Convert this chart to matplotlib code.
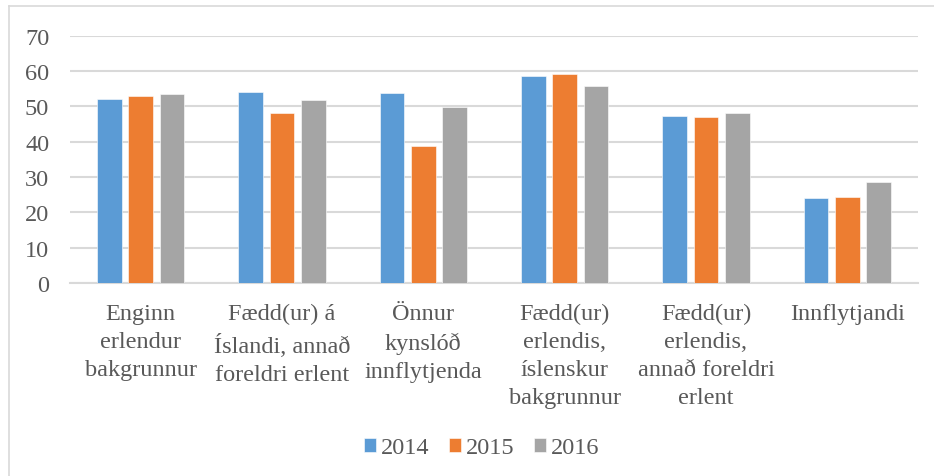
import matplotlib
matplotlib.use("Agg")
import matplotlib.pyplot as plt
from matplotlib.lines import Line2D
import numpy as np

categories = [
    "Enginn\nerlendur\nbakgrunnur",
    "Fædd(ur) á\nÍslandi, annað\nforeldri erlent",
    "Önnur\nkynslóð\ninnflytjenda",
    "Fædd(ur)\nerlendis,\níslenskur\nbakgrunnur",
    "Fædd(ur)\nerlendis,\nannað foreldri\nerlent",
    "Innflytjandi",
]
series_names = ["2014", "2015", "2016"]
v2014 = [52.2, 54.0, 53.7, 58.6, 47.4, 24.0]
v2015 = [52.8, 48.2, 38.8, 59.1, 46.9, 24.4]
v2016 = [53.4, 51.7, 49.9, 55.9, 48.2, 28.6]
yticks = [0, 10, 20, 30, 40, 50, 60, 70]

colors = ["#5B9BD5", "#ED7D31", "#A5A5A5"]
text_color = "#595959"
grid_color = "#D9D9D9"

plt.rcParams["font.family"] = ["Liberation Serif", "DejaVu Serif"]

W, H = 934, 477
fig = plt.figure(figsize=(W / 100, H / 100), dpi=100)
ax = fig.add_axes([70 / W, 1 - 284 / H, (918 - 70) / W, (284 - 36.7) / H])

x = np.arange(len(categories))
width = 0.175
step = 0.222
for i, (vals, name) in enumerate(zip([v2014, v2015, v2016], series_names)):
    ax.bar(x + (i - 1) * step, vals, width, color=colors[i], label=name,
           edgecolor="white", linewidth=0.4, zorder=3)

ax.set_xlim(-0.5, len(categories) - 0.5)
ax.set_ylim(0, 70)
ax.set_yticks(yticks)
ax.set_yticklabels([str(t) for t in yticks])
ax.yaxis.grid(True, color=grid_color, linewidth=1.5, zorder=0)
ax.set_axisbelow(True)
for s in ["top", "right", "left"]:
    ax.spines[s].set_visible(False)
ax.spines["bottom"].set_color(grid_color)
ax.spines["bottom"].set_linewidth(1.5)
ax.tick_params(axis="y", length=0, pad=15, labelsize=17.5, labelcolor=text_color)
ax.tick_params(axis="x", length=0, pad=14.5, labelsize=17.5, labelcolor=text_color)
ax.set_xticks(x)
ax.set_xticklabels(categories, linespacing=1.44, va="top", ha="center")

leg = fig.legend(loc="center", bbox_to_anchor=(482 / W, 1 - 449 / H), ncol=3,
                 frameon=False, fontsize=17.5, handlelength=0.5, handleheight=0.5,
                 handletextpad=0.2, columnspacing=0.8, labelcolor=text_color)

fig.add_artist(Line2D([8.5 / W, 8.5 / W], [0, 1 - 7 / H], color=grid_color,
                      linewidth=1.2, transform=fig.transFigure))
fig.add_artist(Line2D([8.5 / W, 1], [1 - 7 / H, 1 - 7 / H], color=grid_color,
                      linewidth=1.2, transform=fig.transFigure))

fig.savefig("out.png", dpi=100)
